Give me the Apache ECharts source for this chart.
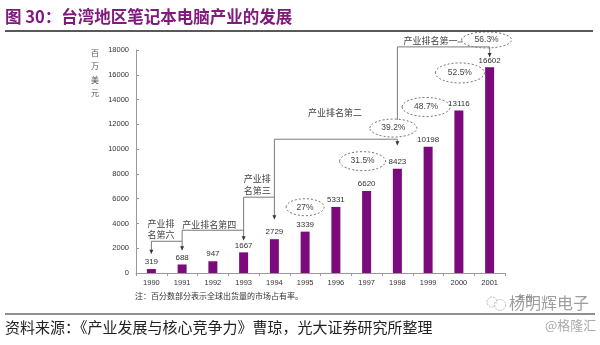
<!DOCTYPE html>
<html>
<head>
<meta charset="utf-8">
<script src="https://cdn.jsdelivr.net/npm/echarts@6/dist/echarts.min.js"></script>
<style>html,body{margin:0;padding:0;background:#fff}#c{width:600px;height:345px}</style>
</head>
<body>
<div id="c"></div>
<script>
// ---- data ----
const years = ['1990','1991','1992','1993','1994','1995','1996','1997','1998','1999','2000','2001'];
const sales = [319, 688, 947, 1667, 2729, 3339, 5331, 6620, 8423, 10198, 13116, 16602];
const shareYears = ['1995','1997','1998','1999','2000','2001'];
const shares = ['27%','31.5%','39.2%','48.7%','52.5%','56.3%'];
const rankLabels = ['产业排\n名第六','产业排名第四','产业排\n名第三','产业排名第二','产业排名第一'];
const yMax = 18000, yStep = 2000;
const titleText = '图 30：台湾地区笔记本电脑产业的发展';
const unitText = '百万美元';
const xName = '年份';
const noteText = '注：百分数部分表示全球出货量的市场占有率。';
const sourceText = '资料来源：《产业发展与核心竞争力》曹琼，光大证券研究所整理';

const FONT = '"Noto Sans CJK SC", "Liberation Sans", sans-serif';
const NUMFONT = '"Liberation Sans", Arial, sans-serif';
const chart = echarts.init(document.getElementById('c'), null, {renderer: 'canvas'});

chart.setOption({
  animation: false,
  backgroundColor: '#fff',
  grid: {left: 136, right: 95, top: 50, bottom: 72},
  xAxis: {
    type: 'category', data: years,
    axisLine: {lineStyle: {color: '#999', width: 1}},
    axisTick: {show: true, length: 3, lineStyle: {color: '#999'}},
    axisLabel: {fontSize: 7.5, color: '#333', margin: 6, fontFamily: NUMFONT}
  },
  yAxis: {
    type: 'value', min: 0, max: yMax, interval: yStep,
    axisLine: {show: true, lineStyle: {color: '#999', width: 1}},
    axisTick: {show: true, inside: true, length: 3, lineStyle: {color: '#999'}},
    splitLine: {show: false},
    axisLabel: {fontSize: 7.5, color: '#333', margin: 7, fontFamily: NUMFONT, formatter: function (v) { return String(v); }}
  },
  series: [{
    type: 'bar', data: sales, barWidth: 9,
    itemStyle: {color: '#7b0a7c'},
    label: {show: true, position: 'top', distance: 3, fontSize: 8, color: '#333', fontFamily: NUMFONT}
  }]
});

function px(cat, val) { return chart.convertToPixel({gridIndex: 0}, [cat, val]); }
const LINE = '#7a7a7a';
const g = [];
function poly(pts) {
  g.push({type: 'polyline', silent: true, shape: {points: pts}, style: {stroke: LINE, lineWidth: 1, fill: null}});
}
function arrow(p) {
  g.push({type: 'polygon', silent: true, shape: {points: [[p[0]-2, p[1]-4], [p[0]+2, p[1]-4], [p[0], p[1]]]}, style: {fill: '#333'}});
}
function txt(x, y, s, o) {
  g.push({type: 'text', silent: true, x: x, y: y, style: Object.assign({text: s, fontSize: 9, fill: '#444', fontFamily: FONT, textVerticalAlign: 'top'}, o || {})});
}

// ---- bracket steps (anchored to categories / axis values) ----
let a, b, c;
a = px('1990', 1560); b = px('1990', 2560); c = px('1991', 2560);
poly([a, b, c]); arrow(a);
a = px('1991', 1835); b = px('1991', 3450); c = px('1993', 3450);
poly([a, b, c]); arrow(a);
a = px('1993', 2640); b = px('1993', 6120); c = px('1994', 6120);
poly([a, b, c]); arrow(a);
a = px('1994', 4340); b = px('1994', 10800); c = px('1998', 10800);
poly([a, b, c]); arrow(a);
a = px('1998', 10800); b = px('1998', 10320);
poly([a, b]); arrow(b);
a = px('1998', 12350); b = px('1998', 18250); c = px('2001', 18250);
let d = px('2001', 17440);
poly([a, b, c, d]); arrow(d);

// ---- rank labels ----
let p;
p = px('1990', 4420); txt(p[0]-4, p[1], rankLabels[0], {lineHeight: 11});
p = px('1991', 3940); txt(p[0], p[1], rankLabels[1], {textVerticalAlign: 'middle'});
p = px('1993', 8140); txt(p[0], p[1], rankLabels[2], {lineHeight: 12});
p = px('1996', 12910); txt(p[0]-28, p[1], rankLabels[3], {textVerticalAlign: 'middle'});
p = px('1998', 18810); txt(p[0]+6, p[1]+1, rankLabels[4], {textVerticalAlign: 'middle'});
g.push({type: 'line', silent: true, shape: {x1: p[0]+60, y1: p[1]+2, x2: p[0]+65, y2: p[1]+2}, style: {stroke: LINE, lineWidth: 1}});

// ---- market share ellipses ----
const ellAnchor = [[5311, 0, 19, 8.5], [9030, -4, 23, 9.5], [11700, -4, 23.5, 9], [13400, -2, 24, 9.5], [16150, 1, 24.5, 10], [18810, -3, 25, 8]];
shares.forEach(function (s, i) {
  const e = ellAnchor[i];
  const q = px(shareYears[i], e[0]);
  g.push({type: 'ellipse', silent: true, shape: {cx: q[0] + e[1], cy: q[1], rx: e[2], ry: e[3]},
    style: {stroke: '#777', lineWidth: 1, lineDash: [2, 2], fill: 'rgba(255,255,255,0)'}});
  txt(q[0] + e[1], q[1], s, {textAlign: 'center', textVerticalAlign: 'middle', fontSize: 8.5, fontFamily: NUMFONT});
});

// ---- frame texts ----
g.push({type: 'text', silent: true, x: 5, y: 17, style: {text: titleText, fontSize: 16.5, fontWeight: 'bold', fill: '#801a7c', fontFamily: FONT, textVerticalAlign: 'middle'}});
g.push({type: 'line', silent: true, shape: {x1: 5, y1: 31, x2: 593, y2: 31}, style: {stroke: '#222', lineWidth: 1.5}});
txt(91, 46, unitText.split('').join('\n'), {fontSize: 8, lineHeight: 13.5, fill: '#555'});
txt(518, 298, xName, {fontSize: 7.5, fill: '#666', textVerticalAlign: 'middle'});
txt(135, 296, noteText, {fontSize: 8, fill: '#333', textVerticalAlign: 'middle'});
g.push({type: 'line', silent: true, shape: {x1: 5, y1: 314, x2: 595, y2: 314}, style: {stroke: '#222', lineWidth: 1.2}});
txt(5, 327, sourceText, {fontSize: 15, fill: '#222', textVerticalAlign: 'middle'});
// watermark
g.push({type: 'circle', silent: true, shape: {cx: 492, cy: 302, r: 5}, style: {stroke: '#bbb', lineWidth: 1, lineDash: [2, 1], fill: 'rgba(255,255,255,0.6)'}});
g.push({type: 'circle', silent: true, shape: {cx: 500, cy: 305, r: 5.5}, style: {stroke: '#bbb', lineWidth: 1, lineDash: [2, 1], fill: 'rgba(255,255,255,0.6)'}});
txt(509, 303, '杨明辉电子', {fontSize: 16, fill: 'rgba(140,140,140,0.85)', textVerticalAlign: 'middle'});
txt(545, 325, '@格隆汇', {fontSize: 13, fill: '#aaa', textVerticalAlign: 'middle'});

chart.setOption({graphic: {elements: g}});
</script>
</body>
</html>
